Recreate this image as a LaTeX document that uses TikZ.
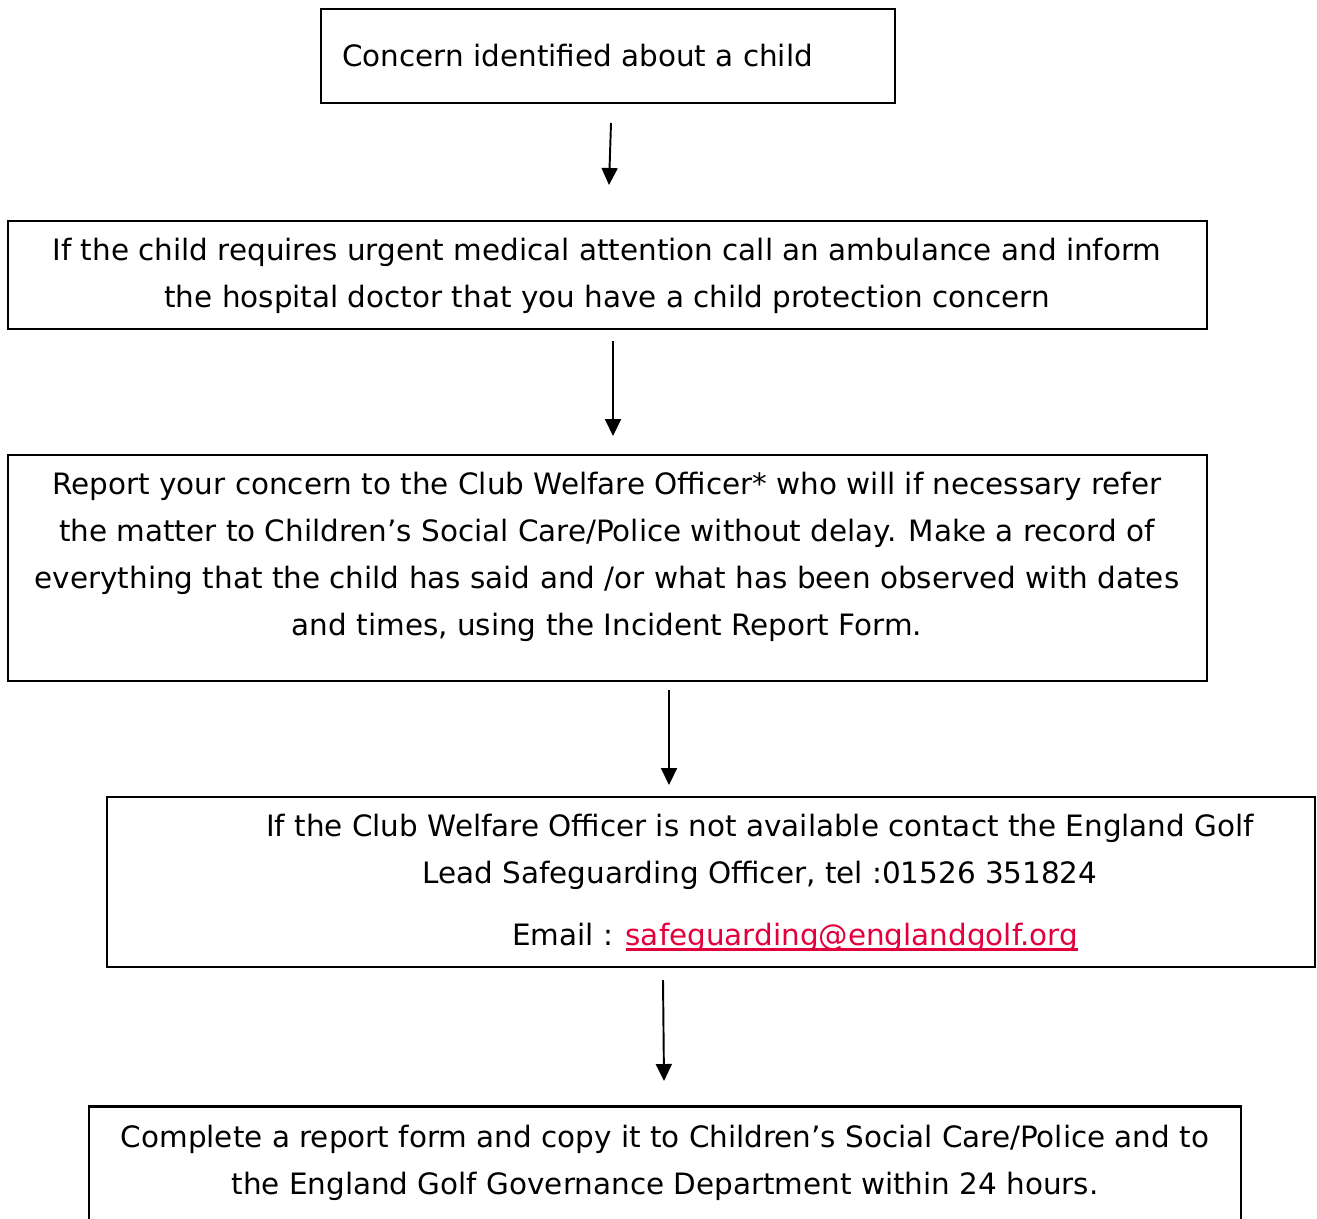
\documentclass[tikz,border=0pt]{standalone}
\usepackage{fontspec}
\setmainfont{DejaVu Sans}
\usetikzlibrary{arrows.meta}
\definecolor{linkred}{RGB}{226,0,60}
\newsavebox\mailbox
\newcommand\maillink[1]{\sbox\mailbox{#1}\rlap{\rule[-0.19em]{\wd\mailbox}{0.08em}}\usebox\mailbox}
\begin{document}
\begin{tikzpicture}[x=0.02cm, y=-0.02cm,
  box/.style={draw, line width=1.3pt, inner sep=0pt},
  txt/.style={inner sep=0pt, font=\fontsize{16.75}{26.75}\selectfont, align=center},
  flow/.style={line width=1.1pt, -{Triangle[width=0.32cm, length=0.34cm]}}]
\useasboundingbox (0,0) rectangle (1317,1218);

% Box 1: the concern
\node[box, minimum width=11.48cm, minimum height=1.88cm] (box1) at (608,56) {};
\node[txt, anchor=west] (concern) at (342,56) {Concern identified about a child};

% Box 2: medical attention
\node[box, minimum width=23.98cm, minimum height=2.16cm] (box2) at (607.5,275) {};
\node[txt] (medical) at (607,276) {If the child requires urgent medical attention call an ambulance and inform\\
  the hospital doctor that you have a child protection concern};

% Box 3: report to the welfare officer
\node[box, minimum width=23.98cm, minimum height=4.52cm] (box3) at (607.5,568) {};
\node[txt] (report) at (607,557) {Report your concern to the Club Welfare Officer* who will if necessary refer\\
  the matter to Children’s Social Care/Police without delay. Make a record of\\
  everything that the child has said and /or what has been observed with dates\\
  and times, using the Incident Report Form.};

% Box 4: lead safeguarding officer
\node[box, minimum width=24.16cm, minimum height=3.4cm] (box4) at (711,882) {};
\node[txt] (lead) at (760,852) {If the Club Welfare Officer is not available contact the England Golf\\
  Lead Safeguarding Officer, tel :01526 351824};
\node[txt] (email) at (795,937) {Email : {\color{linkred}\maillink{safeguarding@englandgolf.org}}};

% Box 5: report form
\node[box, minimum width=23.04cm, minimum height=2.5cm] (box5) at (665,1169) {};
\node[txt] (form) at (665,1163) {Complete a report form and copy it to Children’s Social Care/Police and to\\
  the England Golf Governance Department within 24 hours.};

% arrows between the boxes
\coordinate (a1s) at (611,123); \coordinate (a1e) at (609,185);
\coordinate (a2s) at (613,341); \coordinate (a2e) at (613,436);
\coordinate (a3s) at (669,690); \coordinate (a3e) at (669,785);
\coordinate (a4s) at (663,980); \coordinate (a4e) at (664,1081);
\draw[flow] (a1s) -- (a1e);
\draw[flow] (a2s) -- (a2e);
\draw[flow] (a3s) -- (a3e);
\draw[flow] (a4s) -- (a4e);
\end{tikzpicture}
\end{document}
